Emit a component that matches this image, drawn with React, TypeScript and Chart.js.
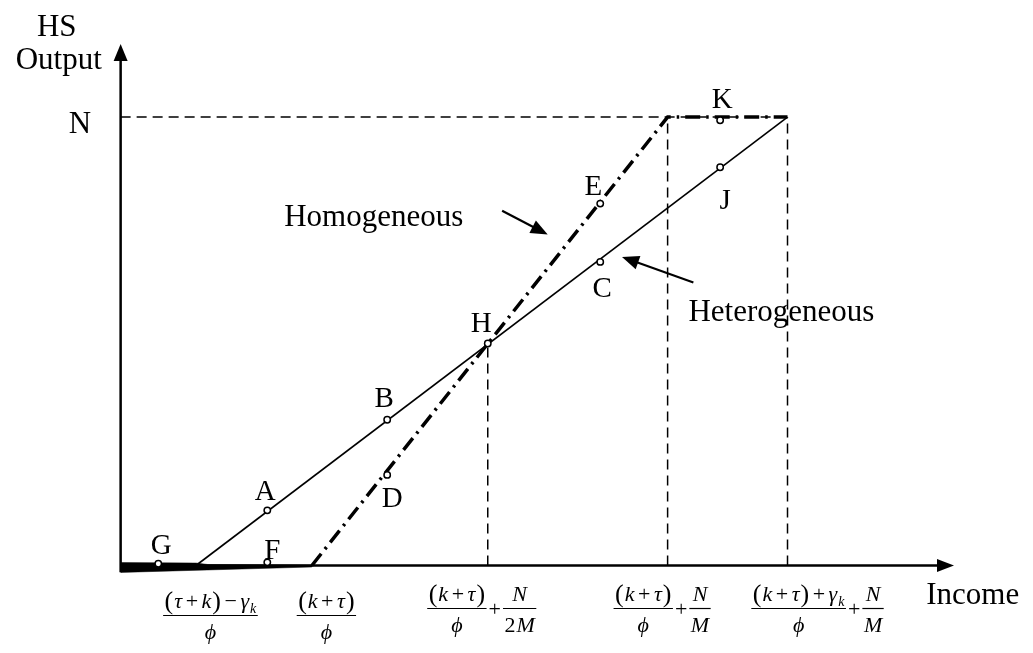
import React, { useEffect, useRef } from "react";
import { Chart, registerables } from "chart.js";

Chart.register(...registerables);

// ---------------- data (schematic units: output N = 100) ----------------
const N_LEVEL = 100;
// (τ+k−γk)/ϕ, (k+τ)/ϕ, (k+τ)/ϕ+N/2M, (k+τ)/ϕ+N/M, (k+τ+γk)/ϕ+N/M
const incomeTickValues = [7.6, 19.3, 37.05, 55.2, 67.3];
const heterogeneousX = [7.6, 67.3];
const heterogeneousY = [0, 100];
const homogeneousX = [19.3, 55.2, 67.3];
const homogeneousY = [0, 100, 100];
const floorWedgeX = [0, 7.6, 8.8, 19.3, 19.3, 0];
const floorWedgeY = [0.66, 0.55, 0.22, 0.11, -0.33, -1.54];
const pointNames = ["A", "B", "H", "C", "J", "K", "E", "D", "F", "G"];
const pointX = [14.8, 26.9, 37.05, 48.4, 60.5, 60.5, 48.4, 26.9, 14.8, 3.8];
const pointY = [12.3, 32.5, 49.5, 67.7, 88.8, 99.3, 80.7, 20.2, 0.7, 0.4];
const seriesNames = ["Homogeneous", "Heterogeneous"];
const yAxisTitle = ["HS", "Output"];
const xAxisTitle = "Income";
const yTickLabel = "N";

type Kind = "i" | "r" | "p" | "o" | "s";
type Piece = [string, Kind];
type Frac = { num: Piece[]; den: Piece[] };
type Term = Frac | "+";
const KT: Piece[] = [["(", "p"], ["k", "i"], ["+", "o"], ["τ", "i"], [")", "p"]];
const PHI: Piece[] = [["ϕ", "i"]];
const NN: Piece[] = [["N", "i"]];
const incomeTickLabels: Term[][] = [
  [{ num: [["(", "p"], ["τ", "i"], ["+", "o"], ["k", "i"], [")", "p"], ["−", "o"], ["γ", "i"], ["k", "s"]], den: PHI }],
  [{ num: KT, den: PHI }],
  [{ num: KT, den: PHI }, "+", { num: NN, den: [["2", "r"], ["M", "i"]] }],
  [{ num: KT, den: PHI }, "+", { num: NN, den: [["M", "i"]] }],
  [{ num: [...KT, ["+", "o"], ["γ", "i"], ["k", "s"]], den: PHI }, "+", { num: NN, den: [["M", "i"]] }],
];

// ---------------- layout ----------------
const W = 1033;
const H = 653;
const ORIGIN_X = 117;
const ORIGIN_Y = 569;
const PX_PER_X = 10;
const PX_PER_Y = 4.55;
const LAYOUT = {
  pointLabels: [
    [14.6, 14.7], [26.6, 35.4], [36.4, 52.1], [48.6, 59.8], [61.0, 79.6],
    [60.7, 102.0], [47.7, 82.6], [27.4, 13.0], [15.3, 1.5], [4.1, 2.6],
  ],
  tickLabelDx: [14.5, 14.5, -6, -5.5, 30],
  tickLabelBarDy: [50, 50, 43, 43, 43],
  hsCenter: [-6.45, 118.0],
  outputCenter: [-6.25, 110.8],
  nCenterX: -4.1,
  incomeLeft: [81.3, -8.6],
  homogeneousLeft: [16.5, 75.6],
  heterogeneousLeft: [57.3, 54.5],
  homogeneousArrow: [38.5, 79.1, 43.1, 73.8],
  heterogeneousArrow: [57.8, 63.1, 50.6, 68.8],
  yAxisTop: 116.3,
  xAxisEnd: 84.1,
};
const SERIF = '"Liberation Serif", "Times New Roman", serif';

function fontOf(k: Kind) {
  if (k === "i") return `italic 22px ${SERIF}`;
  if (k === "s") return `italic 14px ${SERIF}`;
  if (k === "p") return `26px ${SERIF}`;
  return `22px ${SERIF}`;
}
function padOf(k: Kind) {
  return k === "o" ? 3 : 0.5;
}
function rowWidth(ctx: CanvasRenderingContext2D, row: Piece[]) {
  let w = 0;
  for (const [t, k] of row) {
    ctx.font = fontOf(k);
    w += ctx.measureText(t).width + 2 * padOf(k);
  }
  return w;
}
function drawRow(ctx: CanvasRenderingContext2D, row: Piece[], left: number, baseline: number) {
  let cx = left;
  for (const [t, k] of row) {
    ctx.font = fontOf(k);
    const w = ctx.measureText(t).width;
    cx += padOf(k);
    const by = k === "s" ? baseline + 5 : k === "p" ? baseline + 1 : baseline;
    ctx.fillText(t, cx, by);
    cx += w + padOf(k);
  }
}
function termWidth(ctx: CanvasRenderingContext2D, term: Term) {
  if (term === "+") {
    ctx.font = fontOf("o");
    return ctx.measureText("+").width + 4;
  }
  return Math.max(rowWidth(ctx, term.num), rowWidth(ctx, term.den)) + 2;
}
function drawMath(ctx: CanvasRenderingContext2D, terms: Term[], cx: number, barY: number) {
  const widths = terms.map((t) => termWidth(ctx, t));
  const total = widths.reduce((a, b) => a + b, 0);
  let left = cx - total / 2;
  terms.forEach((term, i) => {
    const w = widths[i];
    if (term === "+") {
      ctx.font = fontOf("o");
      ctx.fillText("+", left + 2, barY + 7);
    } else {
      ctx.beginPath();
      ctx.lineWidth = 1.2;
      ctx.moveTo(left, barY);
      ctx.lineTo(left + w, barY);
      ctx.stroke();
      const nw = rowWidth(ctx, term.num);
      const dw = rowWidth(ctx, term.den);
      drawRow(ctx, term.num, left + (w - nw) / 2, barY - 8);
      drawRow(ctx, term.den, left + (w - dw) / 2, barY + 23);
    }
    left += w;
  });
}
function arrowHead(ctx: CanvasRenderingContext2D, fx: number, fy: number, tx: number, ty: number, len: number, half: number) {
  const a = Math.atan2(ty - fy, tx - fx);
  const bx = tx - len * Math.cos(a);
  const by = ty - len * Math.sin(a);
  ctx.beginPath();
  ctx.moveTo(tx, ty);
  ctx.lineTo(bx + half * Math.sin(a), by - half * Math.cos(a));
  ctx.lineTo(bx - half * Math.sin(a), by + half * Math.cos(a));
  ctx.closePath();
  ctx.fill();
}
function arrow(ctx: CanvasRenderingContext2D, fx: number, fy: number, tx: number, ty: number) {
  const a = Math.atan2(ty - fy, tx - fx);
  ctx.beginPath();
  ctx.lineWidth = 2.2;
  ctx.moveTo(fx, fy);
  ctx.lineTo(tx - 12 * Math.cos(a), ty - 12 * Math.sin(a));
  ctx.stroke();
  arrowHead(ctx, fx, fy, tx, ty, 17, 7);
}

const annotationPlugin = {
  id: "schematicAnnotations",
  afterDatasetsDraw(chart: any) {
    const ctx: CanvasRenderingContext2D = chart.ctx;
    const xs = chart.scales.x;
    const ys = chart.scales.y;
    const px = (v: number) => xs.getPixelForValue(v);
    const py = (v: number) => ys.getPixelForValue(v);
    ctx.save();
    ctx.fillStyle = "#000";
    ctx.strokeStyle = "#000";
    // axis arrowheads
    arrowHead(ctx, px(0), py(0), px(0), py(LAYOUT.yAxisTop), 17, 7);
    arrowHead(ctx, px(0), py(0), px(LAYOUT.xAxisEnd), py(0), 17, 6.5);
    // axis titles
    ctx.textBaseline = "alphabetic";
    ctx.textAlign = "center";
    ctx.font = `31px ${SERIF}`;
    ctx.fillText(yAxisTitle[0], px(LAYOUT.hsCenter[0]), py(LAYOUT.hsCenter[1]));
    ctx.fillText(yAxisTitle[1], px(LAYOUT.outputCenter[0]), py(LAYOUT.outputCenter[1]));
    ctx.fillText(yTickLabel, px(LAYOUT.nCenterX), py(N_LEVEL) + 16);
    ctx.textAlign = "left";
    ctx.fillText(xAxisTitle, px(LAYOUT.incomeLeft[0]), py(LAYOUT.incomeLeft[1]));
    ctx.fillText(seriesNames[0], px(LAYOUT.homogeneousLeft[0]), py(LAYOUT.homogeneousLeft[1]));
    ctx.fillText(seriesNames[1], px(LAYOUT.heterogeneousLeft[0]), py(LAYOUT.heterogeneousLeft[1]));
    // series arrows
    const ha = LAYOUT.homogeneousArrow;
    arrow(ctx, px(ha[0]), py(ha[1]), px(ha[2]), py(ha[3]));
    const ea = LAYOUT.heterogeneousArrow;
    arrow(ctx, px(ea[0]), py(ea[1]), px(ea[2]), py(ea[3]));
    // point labels
    ctx.textAlign = "center";
    ctx.font = `29px ${SERIF}`;
    pointNames.forEach((name, i) => {
      const [lx, ly] = LAYOUT.pointLabels[i];
      ctx.fillText(name, px(lx), py(ly));
    });
    // income tick labels
    ctx.textAlign = "left";
    incomeTickValues.forEach((v, i) => {
      drawMath(ctx, incomeTickLabels[i], px(v) + LAYOUT.tickLabelDx[i], py(0) + LAYOUT.tickLabelBarDy[i]);
    });
    ctx.restore();
  },
};

const pts = (xs: number[], ys: number[]) => xs.map((x, i) => ({ x, y: ys[i] }));

function lineDs(data: { x: number; y: number }[], extra: any) {
  return {
    data,
    borderColor: "#000",
    backgroundColor: "#000",
    pointRadius: 0,
    pointHoverRadius: 0,
    borderWidth: 1.5,
    tension: 0,
    fill: false,
    borderCapStyle: "butt",
    ...extra,
  };
}

export default function App() {
  const ref = useRef<HTMLCanvasElement>(null);
  useEffect(() => {
    const canvas = ref.current;
    if (!canvas) return;
    const dashed = { borderDash: [10, 6], borderWidth: 1.5, order: 5 };
    const datasets: any[] = [
      // open circle points
      {
        data: pts(pointX, pointY),
        showLine: false,
        pointRadius: 3.2,
        pointHoverRadius: 3.2,
        pointBorderWidth: 1.5,
        pointBackgroundColor: "#fff",
        pointBorderColor: "#000",
        borderColor: "#000",
        order: 0,
      },
      lineDs(pts(heterogeneousX, heterogeneousY), { borderWidth: 1.6, order: 2 }),
      lineDs(pts(homogeneousX, homogeneousY), { borderWidth: 3.5, borderDash: [15, 6, 2.5, 6], order: 2 }),
      lineDs(pts(floorWedgeX, floorWedgeY), { borderWidth: 0.5, fill: "shape", backgroundColor: "#000", order: 3 }),
      // axes
      lineDs(pts([0, 0], [-1.5, 113]), { borderWidth: 2.5, order: 3 }),
      lineDs(pts([0, 83], [0, 0]), { borderWidth: 2.5, order: 3 }),
      // guide lines
      lineDs(pts([0, incomeTickValues[4]], [N_LEVEL, N_LEVEL]), dashed),
      lineDs(pts([incomeTickValues[2], incomeTickValues[2]], [0, pointY[2]]), dashed),
      lineDs(pts([incomeTickValues[3], incomeTickValues[3]], [0, N_LEVEL]), dashed),
      lineDs(pts([incomeTickValues[4], incomeTickValues[4]], [0, N_LEVEL]), dashed),
    ];
    const chart = new Chart(canvas, {
      type: "line",
      data: { datasets },
      options: {
        animation: false,
        responsive: false,
        devicePixelRatio: 1,
        events: [],
        layout: { padding: 0 },
        plugins: { legend: { display: false }, tooltip: { enabled: false }, title: { display: false } },
        scales: {
          x: { type: "linear", display: false, bounds: "data", grace: 0, min: -ORIGIN_X / PX_PER_X, max: (W - ORIGIN_X) / PX_PER_X },
          y: { type: "linear", display: false, bounds: "data", grace: 0, min: -(H - ORIGIN_Y) / PX_PER_Y, max: ORIGIN_Y / PX_PER_Y },
        },
      },
      plugins: [annotationPlugin],
    } as any);
    return () => chart.destroy();
  }, []);
  return (
    <div style={{ position: "absolute", left: 0, top: 0, width: W, height: H, background: "#fff" }}>
      <canvas ref={ref} width={W} height={H} style={{ display: "block", width: W, height: H }} />
    </div>
  );
}
